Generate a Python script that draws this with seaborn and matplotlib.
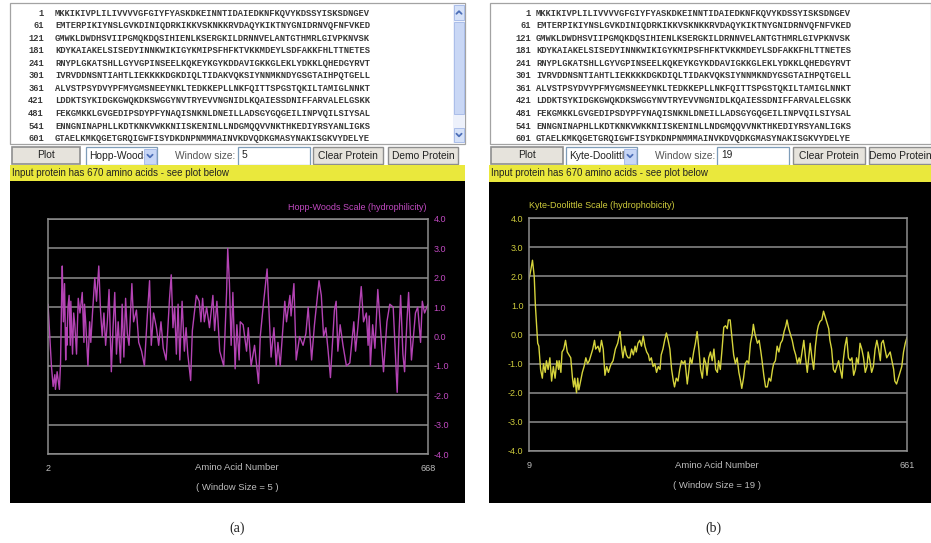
import matplotlib
matplotlib.use("Agg")
import matplotlib.pyplot as plt
from matplotlib.patches import Rectangle
import seaborn as sns
import pandas as pd

# ---------------- data ----------------
seq_starts = [1, 61, 121, 181, 241, 301, 361, 421, 481, 541, 601]
seq_lines = [
    "MKKIKIVPLILIVVVVGFGIYFYASKDKEINNTIDAIEDKNFKQVYKDSSYISKSDNGEV",
    "EMTERPIKIYNSLGVKDINIQDRKIKKVSKNKKRVDAQYKIKTNYGNIDRNVQFNFVKED",
    "GMWKLDWDHSVIIPGMQKDQSIHIENLKSERGKILDRNNVELANTGTHMRLGIVPKNVSK",
    "KDYKAIAKELSISEDYINNKWIKIGYKMIPSFHFKTVKKMDEYLSDFAKKFHLTTNETES",
    "RNYPLGKATSHLLGYVGPINSEELKQKEYKGYKDDAVIGKKGLEKLYDKKLQHEDGYRVT",
    "IVRVDDNSNTIAHTLIEKKKKDGKDIQLTIDAKVQKSIYNNMKNDYGSGTAIHPQTGELL",
    "ALVSTPSYDVYPFMYGMSNEEYNKLTEDKKEPLLNKFQITTSPGSTQKILTAMIGLNNKT",
    "LDDKTSYKIDGKGWQKDKSWGGYNVTRYEVVNGNIDLKQAIESSDNIFFARVALELGSKK",
    "FEKGMKKLGVGEDIPSDYPFYNAQISNKNLDNEILLADSGYGQGEILINPVQILSIYSAL",
    "ENNGNINAPHLLKDTKNKVWKKNIISKENINLLNDGMQQVVNKTHKEDIYRSYANLIGKS",
    "GTAELKMKQGETGRQIGWFISYDKDNPNMMMAINVKDVQDKGMASYNAKISGKVYDELYE",
]

hw_res = [2, 8, 11, 14, 15, 18, 20, 22, 24, 26,
          27, 29, 31, 33, 34, 35, 37, 39, 41, 42,
          45, 47, 49, 52, 55, 58, 62, 65, 66, 68,
          72, 75, 77, 80, 84, 87, 91, 94, 97, 100,
          103, 106, 109, 113, 116, 119, 122, 125, 129, 132,
          135, 138, 141, 144, 149, 152, 157, 161, 166, 171,
          176, 180, 183, 187, 192, 196, 200, 204, 209, 215,
          218, 221, 224, 227, 230, 233, 237, 241, 244, 247,
          252, 255, 262, 267, 270, 273, 276, 280, 285, 291,
          294, 298, 303, 310, 312, 315, 317, 320, 323, 326,
          330, 333, 337, 339, 344, 350, 353, 358, 364, 371,
          374, 379, 386, 391, 393, 398, 402, 405, 409, 417,
          420, 426, 428, 433, 437, 443, 449, 454, 458, 464,
          469, 477, 481, 485, 489, 493, 497, 504, 507, 510,
          514, 519, 525, 531, 538, 541, 545, 551, 555, 560,
          563, 565, 567, 571, 575, 580, 584, 590, 596, 601,
          607, 611, 614, 617, 620, 624, 627, 631, 634, 639,
          646, 650, 655, 658, 662, 668]
hw_val = [1.1, -1.0, -1.7, -1.3, -1.8, -1.2, -1.5, -1.8, -0.9, 1.5,
          2.4, 0.5, 1.8, -0.8, 0.3, -0.3, 1.0, 1.4, -0.3, 1.2,
          -0.6, 0.8, 0.4, -0.6, 1.3, 0.8, 1.5, -0.2, 1.1, 0.5,
          -1.0, 0.5, -0.2, 0.8, 2.0, 1.2, 2.4, 0.9, 0.0, 0.8,
          -0.3, 0.5, 1.6, -1.2, 0.3, 1.5, -0.6, 0.5, -0.9, 1.1,
          -0.7, 1.3, 0.1, -0.3, 1.8, 0.5, 0.9, -0.2, -0.5, -1.0,
          0.7, 1.9, -0.3, 0.8, 0.3, -0.3, 0.5, -0.4, -0.8, 1.3,
          2.1, 0.3, 1.0, -0.6, 1.1, -0.8, 1.2, -0.5, 0.3, -0.6,
          -1.5, 0.2, 1.4, 1.2, 0.5, 1.3, 0.5, 1.0, 0.3, 1.4,
          0.2, 1.2, -0.5, -1.0, 0.0, 1.5, 3.0, 1.8, -0.3, 1.5,
          -1.1, 0.4, -0.8, 0.5, 0.4, -0.5, 0.3, -1.0, -0.3, -1.6,
          0.0, 1.0, 2.3, 0.2, -0.7, 0.3, -1.0, -0.2, -1.0, 1.2,
          0.5, 1.4, 0.7, 1.8, -0.8, 0.0, -0.3, 0.1, 1.0, -0.8,
          0.4, 1.9, 1.4, 0.0, 0.3, -0.5, -1.4, 0.9, 1.2, -0.5,
          0.4, -0.3, -1.0, -0.9, 0.5, -0.5, 0.3, 1.7, 0.5, 0.8,
          -0.3, 0.7, -1.0, 0.4, -0.4, 1.6, 0.5, -1.2, 0.5, 1.1,
          1.0, -0.7, -1.9, 0.0, 1.4, -0.6, -1.2, 0.5, 1.5, -0.8,
          0.8, 1.0, -0.2, 1.2, 0.8, 1.1]

kd_res = [9, 12, 15, 18, 20, 24, 26, 29, 32, 34,
          37, 39, 42, 45, 48, 51, 54, 57, 60, 61,
          64, 66, 69, 72, 75, 78, 81, 84, 86, 88,
          91, 93, 95, 98, 101, 104, 107, 110, 113, 116,
          119, 122, 124, 128, 131, 134, 137, 140, 143, 146,
          149, 151, 154, 158, 162, 166, 169, 171, 174, 177,
          180, 183, 186, 189, 192, 194, 197, 200, 203, 206,
          209, 212, 215, 217, 220, 223, 226, 229, 232, 235,
          237, 240, 243, 246, 249, 252, 255, 258, 260, 263,
          266, 269, 272, 275, 278, 282, 285, 287, 290, 293,
          296, 299, 302, 305, 308, 311, 314, 316, 319, 322,
          325, 328, 331, 334, 336, 339, 342, 345, 348, 351,
          353, 356, 359, 362, 365, 368, 371, 374, 376, 379,
          382, 385, 388, 391, 394, 396, 399, 403, 406, 409,
          411, 414, 417, 420, 423, 426, 429, 431, 434, 437,
          440, 443, 446, 449, 452, 454, 457, 460, 463, 466,
          469, 472, 475, 477, 480, 483, 486, 489, 491, 494,
          497, 500, 503, 506, 508, 511, 514, 517, 520, 523,
          526, 528, 531, 534, 537, 540, 543, 546, 549, 551,
          554, 557, 560, 563, 566, 569, 572, 574, 577, 580,
          583, 586, 589, 592, 594, 597, 600, 603, 606, 609,
          612, 615, 617, 620, 623, 626, 629, 632, 635, 638,
          640, 643, 646, 649, 652, 655, 658, 661]
kd_val = [1.9, 2.2, 2.55, 2.0, 1.0, -0.3, -0.4, -1.2, -1.5, -1.0,
          -1.3, -0.9, -1.2, -0.8, -1.6, -1.1, -1.5, -0.9, -1.2, -0.9,
          -1.3, -0.6, -0.5, -0.2, -0.6, -0.7, -0.8, -1.5, -1.8, -1.5,
          -2.0, -1.5, -1.9, -1.6, -1.3, -1.1, -0.8, -1.0, -0.9, -0.7,
          -0.5, -0.2, -0.5, -0.4, -0.6, -0.2, -0.5, -1.4, -1.1, -1.3,
          -1.1, -1.0, -0.9, -0.5, -0.3, 0.1, -0.5, -0.8, -0.4, -0.7,
          -0.8, -0.8, -0.5, -0.7, -0.4, -0.6, -0.3, -0.2, -0.4, -0.05,
          -0.4, -0.6, -0.7, -0.9, -0.8, -1.1, -1.0, -1.3, -1.1, -1.2,
          -0.7, -0.5, -0.2, 0.05, -0.2, -0.5, -1.2, -1.6, -1.8, -1.5,
          -1.6, -1.2, -0.9, -1.0, -0.9, -1.7, -1.2, -0.8, -1.0, -0.6,
          -0.3, 0.1, -0.5, -1.2, -1.5, -0.8, -1.0, -1.4, -0.8, -0.6,
          -0.9, -0.5, -1.2, -1.3, -0.9, -1.2, -0.5, 0.25, 0.3, 0.2,
          0.5, 0.5, -0.1, -0.7, -1.0, -0.8, -1.3, -1.6, -1.85, -1.5,
          -1.0, -0.9, -1.0, -0.3, 0.0, 0.35, 0.0, -0.3, -0.2, -0.6,
          -0.9, -1.4, -1.8, -1.8, -1.5, -1.6, -1.2, -1.0, -0.9, -0.4,
          -0.6, -0.3, -0.2, 0.1, 0.3, 0.5, 0.2, 0.0, -0.2, -0.5,
          -0.7, -1.0, -0.8, -1.0, -0.6, -0.2, -0.8, -1.3, -0.9, -0.3,
          -0.8, -1.2, -0.4, 0.1, 0.3, 0.45, 0.5, 0.8, 0.6, 0.4,
          0.2, -0.2, -0.5, -1.2, -1.3, -1.1, -0.9, -1.2, -1.5, -0.9,
          -0.4, -0.1, -0.8, -0.9, -0.8, -1.4, -1.2, -0.8, -1.0, -0.3,
          -0.5, -0.8, -1.3, -1.1, -0.6, -0.9, -1.3, -1.1, -0.5, -0.2,
          -0.5, -0.9, -0.3, -0.2, -0.5, -0.8, -0.7, -0.6, -0.9, -1.2,
          -1.6, -1.7, -1.5, -1.3, -1.1, -0.6, -0.3, -0.1]

y_ticks = [4.0, 3.0, 2.0, 1.0, 0.0, -1.0, -2.0, -3.0, -4.0]
y_tick_labels = ["4.0", "3.0", "2.0", "1.0", "0.0", "-1.0", "-2.0", "-3.0", "-4.0"]

panels = [
    dict(scale="Hopp-Woods", title="Hopp-Woods Scale (hydrophilicity)", window="5",
         res=hw_res, val=hw_val, x_ends=(2, 668), color="#b443b4", tcolor="#c24ac2",
         caption="(a)"),
    dict(scale="Kyte-Doolittle", title="Kyte-Doolittle Scale (hydrophobicity)", window="19",
         res=kd_res, val=kd_val, x_ends=(9, 661), color="#d6d43c", tcolor="#cfcc3c",
         caption="(b)"),
]

# ---------------- figure ----------------
sns.set_style("white")
plt.rcParams["font.family"] = ["Liberation Sans", "DejaVu Sans"]

W, H = 931, 543
fig = plt.figure(figsize=(W / 100, H / 100), dpi=100)
fig.patch.set_facecolor("white")
bg = fig.add_axes([0, 0, 1, 1])
bg.set_xlim(0, W)
bg.set_ylim(H, 0)
bg.axis("off")

ui_font = 7.4
btn_fc, btn_ec = "#e6e3dc", "#8e8e8e"


def chevron(x, y, up=False, color="#4d6fb8"):
    d = -1 if up else 1
    bg.plot([x - 2.6, x, x + 2.6], [y - 1.3 * d, y + 1.3 * d, y - 1.3 * d],
            color=color, lw=1.3, solid_capstyle="round", zorder=6)


layout = [
    dict(x0=10, w=455, num_x=44, seq_x=55, scroll=True,
         plot_btn=(12, 68), dd=(86, 71), win_lbl=175, inp=(238, 72),
         clear=(313, 70), demo=(388, 70), demo_tx=423, yb=(165, 16), blk=(181, 322),
         ax=(48, 219, 428, 454), tick_side="right", title_x=427, title_ha="right",
         xl_y=468, ws_y=488, cap_x=237),
    dict(x0=490, w=441, num_x=531, seq_x=536, scroll=False,
         plot_btn=(491, 72), dd=(566, 71), win_lbl=655, inp=(717, 72),
         clear=(793, 72), demo=(869, 70), demo_tx=900, yb=(165, 17), blk=(182, 321),
         ax=(529, 218, 907, 451), tick_side="left", title_x=529, title_ha="left",
         xl_y=465, ws_y=485, cap_x=713),
]

for p, L in zip(panels, layout):
    x0, w = L["x0"], L["w"]
    # sequence box
    bg.add_patch(Rectangle((x0, 3), w, 141, fc="white", ec="#a3a3a3", lw=0.9, zorder=1))
    for i, (n, s) in enumerate(zip(seq_starts, seq_lines)):
        yy = 13 + i * 12.56
        bg.text(L["num_x"], yy, str(n), ha="right", va="center", family="Liberation Mono",
                fontsize=6.3, color="#3a3a3a", weight="bold", zorder=3)
        bg.text(L["seq_x"], yy, s, ha="left", va="center", family="Liberation Mono",
                fontsize=6.3, color="#3a3a3a", weight="bold", zorder=3)
    if L["scroll"]:
        sx = x0 + w - 12
        bg.add_patch(Rectangle((sx, 4), 11.5, 139, fc="#edf1fb", ec="none", zorder=2))
        bg.add_patch(Rectangle((sx + 0.5, 22), 10.5, 92, fc="#c9d7f5", ec="#aabde9", lw=0.7, zorder=3))
        bg.add_patch(Rectangle((sx + 0.5, 5), 10.5, 15, fc="#d5e1f8", ec="#aabde9", lw=0.7, zorder=3))
        bg.add_patch(Rectangle((sx + 0.5, 128), 10.5, 14, fc="#d5e1f8", ec="#aabde9", lw=0.7, zorder=3))
        chevron(sx + 6, 12.5, up=True)
        chevron(sx + 6, 135)

    # controls row
    bx, bw = L["plot_btn"]
    bg.add_patch(Rectangle((bx, 147), bw, 17, fc=btn_fc, ec=btn_ec, lw=1.2, zorder=2))
    bg.text(bx + bw / 2, 155.5, "Plot", ha="center", va="center", fontsize=ui_font, color="#222")
    dx, dw = L["dd"]
    bg.add_patch(Rectangle((dx, 147), dw, 18, fc="white", ec="#7f9db9", lw=0.9, zorder=2))
    bg.text(dx + 3, 156, p["scale"], ha="left", va="center", fontsize=ui_font, color="#222", zorder=3)
    bg.add_patch(Rectangle((dx + dw - 13, 148.5), 12, 15, fc="#c7d6f6", ec="#a9bce8", lw=0.7, zorder=4))
    chevron(dx + dw - 7, 156)
    bg.text(L["win_lbl"], 156, "Window size:", ha="left", va="center", fontsize=ui_font, color="#555")
    ix, iw = L["inp"]
    bg.add_patch(Rectangle((ix, 147), iw, 18, fc="white", ec="#7f9db9", lw=0.9, zorder=2))
    bg.text(ix + 4, 155.5, p["window"], ha="left", va="center", fontsize=ui_font, color="#222", zorder=3)
    cx, cw = L["clear"]
    bg.add_patch(Rectangle((cx, 147), cw, 17, fc=btn_fc, ec=btn_ec, lw=1.0, zorder=2))
    bg.text(cx + cw / 2, 156, "Clear Protein", ha="center", va="center", fontsize=ui_font, color="#222")
    mx, mw = L["demo"]
    bg.add_patch(Rectangle((mx, 147), mw, 17, fc=btn_fc, ec=btn_ec, lw=1.0, zorder=2))
    bg.text(L["demo_tx"], 156, "Demo Protein", ha="center", va="center", fontsize=ui_font, color="#222")

    # yellow status bar
    yy0, yh = L["yb"]
    bx0 = L["plot_btn"][0] - 2 if not L["scroll"] else x0
    bg.add_patch(Rectangle((bx0, yy0), x0 + w - bx0, yh, fc="#eae83c", ec="none", zorder=2))
    bg.text(bx0 + 2, yy0 + yh / 2, "Input protein has 670 amino acids - see plot below",
            ha="left", va="center", fontsize=7, color="#222", zorder=3)

    # black plot panel
    by0, bh = L["blk"]
    bg.add_patch(Rectangle((bx0, by0), x0 + w - bx0, bh, fc="black", ec="none", zorder=2))

    # data axes
    l, t, r, b = L["ax"]
    ax = fig.add_axes([l / W, 1 - b / H, (r - l) / W, (b - t) / H])
    ax.set_facecolor("black")
    df = pd.DataFrame({"Amino Acid Number": p["res"], "value": p["val"]})
    sns.lineplot(data=df, x="Amino Acid Number", y="value", ax=ax, color=p["color"],
                 linewidth=1.0, sort=False)
    ax.set_xlim(*p["x_ends"])
    ax.set_ylim(-4, 4)
    ax.set_yticks(y_ticks)
    ax.set_yticklabels(y_tick_labels)
    ax.set_xticks(list(p["x_ends"]))
    ax.set_xticklabels([str(v) for v in p["x_ends"]])
    ax.grid(axis="y", color="#8d8d8d", lw=1.1)
    ax.grid(axis="x", visible=False)
    ax.set_axisbelow(True)
    for s in ax.spines.values():
        s.set_color("#8d8d8d")
        s.set_linewidth(1.1)
    if L["tick_side"] == "right":
        ax.yaxis.tick_right()
    ax.tick_params(axis="y", length=0, pad=4, labelsize=6.5, labelcolor=p["tcolor"])
    ax.tick_params(axis="x", length=0, pad=7, labelsize=6.5, labelcolor="#bdbdbd")
    ax.set_xlabel("")
    ax.set_ylabel("")
    ax.text(L["title_x"], t - 12, p["title"], transform=bg.transData, ha=L["title_ha"],
            va="center", fontsize=6.5, color=p["tcolor"])
    mid = (l + r) / 2 - 1
    bg.text(mid, L["xl_y"], "Amino Acid Number", ha="center", va="center",
            fontsize=6.8, color="#bdbdbd", zorder=5)
    bg.text(mid, L["ws_y"], "( Window Size = %s )" % p["window"], ha="center", va="center",
            fontsize=6.8, color="#bdbdbd", zorder=5)

    # caption
    bg.text(L["cap_x"], 528, p["caption"], ha="center", va="center",
            family="Liberation Serif", fontsize=10, color="#222")

fig.savefig("out.png", dpi=100, facecolor="white")
